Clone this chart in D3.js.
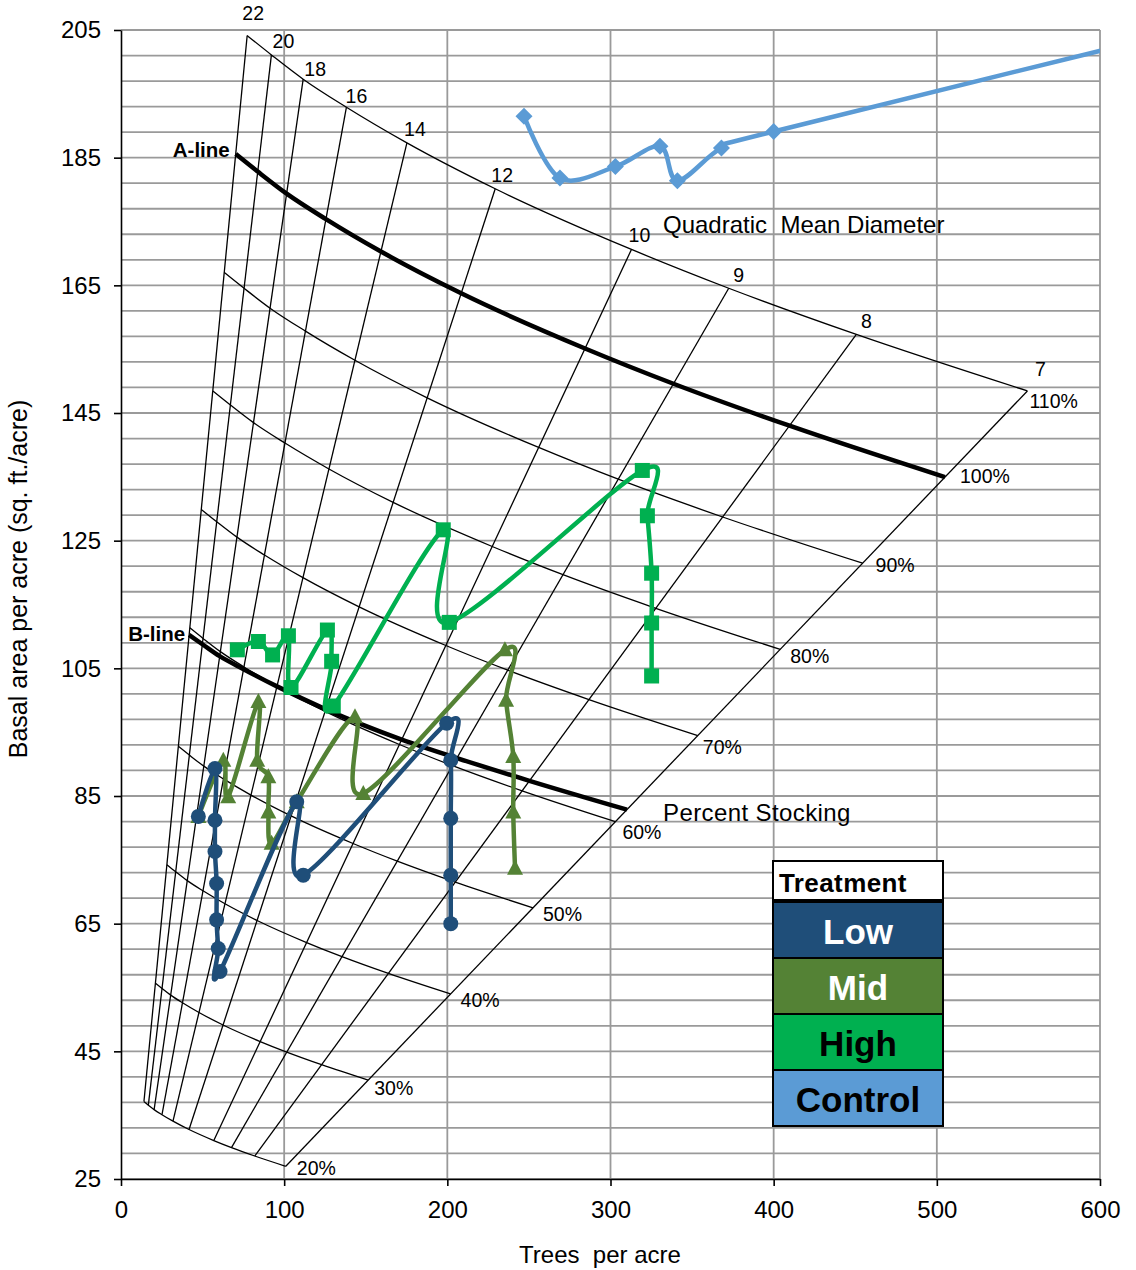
<!DOCTYPE html>
<html>
<head>
<meta charset="utf-8">
<script src="https://cdn.jsdelivr.net/npm/d3@7"></script>
<style>
  body { margin: 0; background: #fff; }
  text { font-family: "Liberation Sans", Arial, sans-serif; fill: #000; }
</style>
</head>
<body>
<svg id="chart" width="1136" height="1270"></svg>
<script>
// stocking guide: trees/acre at 100% stocking for each QMD, read along the A-line
var qmd = [22, 20, 18, 16, 14, 12, 10, 9, 8, 7];
var tpaFull = [70.3, 83.8, 101.5, 125.6, 159.3, 208.5, 284.4, 338.6, 409.7, 505];
var stockLevels = [20, 30, 40, 50, 60, 70, 80, 90, 100, 110];
var bLinePct = [59.4, 59.5, 59.6, 59.8, 60.0, 60.2, 60.5, 60.8, 61.1, 61.4];

// treatments (trees per acre, basal area per acre)
var lowTpa = [47.4, 57.6, 57.6, 57.6, 58.6, 58.6, 59.6, 60.7, 107.7, 111.7, 199.6, 202.1, 202.1, 202.1, 202.1];
var lowBa  = [81.8, 89.3, 81.2, 76.3, 71.3, 65.6, 61.1, 57.5, 84.1, 72.6, 96.4, 90.6, 81.5, 72.6, 65.0];

var midTpa = [47.4, 62.7, 65.7, 84.2, 83.5, 90.3, 90.3, 92.3, 107.7, 143.4, 148.5, 235.3, 236.0, 240.4, 240.4, 241.5];
var midBa  = [81.8, 90.6, 84.9, 99.8, 90.6, 88.0, 82.5, 77.6, 84.1, 97.4, 85.4, 107.9, 100.0, 91.2, 82.5, 73.7];

var highTpa = [71.3, 84.2, 92.9, 102.6, 104.2, 126.5, 129.1, 130.1, 197.5, 201.2, 319.5, 322.6, 325.2, 325.2, 325.2];
var highBa  = [107.9, 109.2, 107.1, 110.1, 102.0, 111.0, 106.1, 99.1, 126.7, 112.2, 136.0, 128.9, 119.9, 112.1, 103.8];

var controlTpa = [247, 269, 303, 330.3, 341, 368, 400, 700];
var controlBa  = [191.5, 181.8, 183.6, 186.8, 181.4, 186.5, 189.1, 208];

var treatments = ["Low", "Mid", "High", "Control"];
var xTicks = [0, 100, 200, 300, 400, 500, 600];
var yTicks = [25, 45, 65, 85, 105, 125, 145, 165, 185, 205];

var BA_PER_IN2 = 0.005454;   // sq ft of basal area per tree per inch^2 of dbh

(function () {
var svg = d3.select("#chart");
var pl = 121, pr = 1100, pt = 30, pb = 1179;

var x = d3.scaleLinear().domain([0, 600]).range([pl, pr]);
var y = d3.scaleLinear().domain([25, 205]).range([pb, pt]);

function node(i, pct) {
  var n = tpaFull[i] * pct / 100;
  return [n, n * BA_PER_IN2 * qmd[i] * qmd[i]];
}

// grid
var grid = svg.append("g").attr("stroke", "#9a9a9a").attr("stroke-width", 1.8);
grid.selectAll("line.h")
  .data(d3.range(25, 206, 4))
  .enter().append("line")
    .attr("x1", pl).attr("x2", pr)
    .attr("y1", function(d) { return y(d); })
    .attr("y2", function(d) { return y(d); });
grid.selectAll("line.v")
  .data(xTicks.slice(1))
  .enter().append("line")
    .attr("x1", function(d) { return x(d); })
    .attr("x2", function(d) { return x(d); })
    .attr("y1", pt).attr("y2", pb);

// axes
var yAxis = svg.append("g")
  .attr("transform", "translate(" + pl + ",0)")
  .call(d3.axisLeft(y).tickValues(yTicks).tickSize(7).tickSizeOuter(0).tickPadding(13));
var xAxis = svg.append("g")
  .attr("transform", "translate(0," + pb + ")")
  .call(d3.axisBottom(x).tickValues(xTicks).tickSize(7).tickSizeOuter(0).tickPadding(15));
[xAxis, yAxis].forEach(function(a) {
  a.selectAll("path, line").attr("stroke", "#000").attr("stroke-width", 1.6);
  a.selectAll("text").attr("font-size", 24).attr("font-family", "Liberation Sans, Arial, sans-serif").attr("fill", "#000");
});

svg.append("text")
  .attr("x", 600).attr("y", 1263)
  .attr("text-anchor", "middle")
  .attr("font-size", 24)
  .style("white-space", "pre")
  .text("Trees  per acre");
svg.append("text")
  .attr("transform", "translate(27,579) rotate(-90)")
  .attr("text-anchor", "middle")
  .attr("font-size", 25)
  .text("Basal area per acre (sq. ft./acre)");

// stocking guide
var guide = svg.append("g").attr("fill", "none").attr("stroke", "#000");
var curve = d3.line()
  .x(function(d) { return x(d[0]); })
  .y(function(d) { return y(d[1]); })
  .curve(d3.curveMonotoneX);

stockLevels.forEach(function(p) {
  var pts = qmd.map(function(d, i) { return node(i, p); });
  guide.append("path")
    .attr("d", curve(pts))
    .attr("stroke-width", p == 100 ? 4.5 : 1.3);
});

qmd.forEach(function(d, i) {
  var a = node(i, 20), b = node(i, 110);
  guide.append("line")
    .attr("x1", x(a[0])).attr("y1", y(a[1]))
    .attr("x2", x(b[0])).attr("y2", y(b[1]))
    .attr("stroke-width", 1.3);
});

var bPts = qmd.map(function(d, i) { return node(i, bLinePct[i]); });
guide.append("path").attr("d", curve(bPts)).attr("stroke-width", 4.5);

// guide labels
var pctNudge = [[11, 2], [6, 8], [10, 6], [10, 6], [7, 10], [5, 11], [10, 7], [13, 2], [15, -1], [2, 10]];
stockLevels.forEach(function(p, k) {
  var e = node(qmd.length - 1, p);
  svg.append("text")
    .attr("x", x(e[0]) + pctNudge[k][0])
    .attr("y", y(e[1]) + pctNudge[k][1])
    .attr("dominant-baseline", "central")
    .attr("font-size", 19.5)
    .text(p + "%");
});
var qmdNudge = [[6, -23], [12, -14], [12, -10], [10, -11], [8, -14], [7, -14], [8, -14], [10, -13], [10, -13], [13, -22]];
qmd.forEach(function(d, i) {
  var t = node(i, 110);
  svg.append("text")
    .attr("x", x(t[0]) + qmdNudge[i][0])
    .attr("y", y(t[1]) + qmdNudge[i][1])
    .attr("text-anchor", "middle")
    .attr("dominant-baseline", "central")
    .attr("font-size", 19.5)
    .text(d);
});

svg.append("text").attr("x", 663).attr("y", 224)
  .attr("dominant-baseline", "central").attr("font-size", 24)
  .style("white-space", "pre")
  .text("Quadratic  Mean Diameter");
svg.append("text").attr("x", 663).attr("y", 812)
  .attr("dominant-baseline", "central").attr("font-size", 24)
  .attr("letter-spacing", 0.4)
  .text("Percent Stocking");

var aStart = node(0, 100);
svg.append("text").attr("x", x(aStart[0]) - 6).attr("y", y(aStart[1]) - 5)
  .attr("text-anchor", "end").attr("dominant-baseline", "central")
  .attr("font-size", 20.5).attr("font-weight", "bold")
  .text("A-line");
var bStart = node(0, bLinePct[0]);
svg.append("text").attr("x", x(bStart[0]) - 4).attr("y", y(bStart[1]) - 1)
  .attr("text-anchor", "end").attr("dominant-baseline", "central")
  .attr("font-size", 20.5).attr("font-weight", "bold")
  .text("B-line");

// treatment series
svg.append("clipPath").attr("id", "plotClip")
  .append("rect").attr("x", pl).attr("y", pt)
  .attr("width", pr - pl).attr("height", pb - pt);

var series = [
  { name: "Control", tpa: controlTpa, ba: controlBa, color: "#5b9bd5", mark: "diamond" },
  { name: "High", tpa: highTpa, ba: highBa, color: "#00b050", mark: "square" },
  { name: "Mid", tpa: midTpa, ba: midBa, color: "#548235", mark: "triangle" },
  { name: "Low", tpa: lowTpa, ba: lowBa, color: "#1f4e79", mark: "circle" }
];

var smooth = d3.line()
  .x(function(d) { return x(d[0]); })
  .y(function(d) { return y(d[1]); })
  .curve(d3.curveCardinal.tension(0));

var markPath = {
  diamond: "M0,-8.5L8.5,0L0,8.5L-8.5,0Z",
  square: "M-7.5,-7.5H7.5V7.5H-7.5Z",
  triangle: "M0,-8.5L8,6.5H-8Z",
  circle: "M7.5,0A7.5,7.5 0 1,1 -7.5,0A7.5,7.5 0 1,1 7.5,0Z"
};

var plot = svg.append("g").attr("clip-path", "url(#plotClip)");
series.forEach(function(s) {
  var pts = s.tpa.map(function(t, i) { return [t, s.ba[i]]; });
  var g = plot.append("g");
  g.append("path")
    .attr("d", smooth(pts))
    .attr("fill", "none")
    .attr("stroke", s.color)
    .attr("stroke-width", 4.5)
    .attr("stroke-linejoin", "round");
  g.selectAll("path.m")
    .data(pts)
    .enter().append("path")
      .attr("class", "m")
      .attr("d", markPath[s.mark])
      .attr("transform", function(d) { return "translate(" + x(d[0]) + "," + y(d[1]) + ")"; })
      .attr("fill", s.color);
});

// legend
var legendColors = { Low: "#1f4e79", Mid: "#548235", High: "#00b050", Control: "#5b9bd5" };
var legendText = { Low: "#fff", Mid: "#fff", High: "#000", Control: "#000" };
var lx = 773, lw = 170, ly = 861, headH = 39, rowH = 56;
var legend = svg.append("g");
legend.append("rect")
  .attr("x", lx).attr("y", ly).attr("width", lw).attr("height", headH)
  .attr("fill", "#fff").attr("stroke", "#000").attr("stroke-width", 2);
legend.append("text")
  .attr("x", lx + 6).attr("y", ly + headH / 2 + 2)
  .attr("dominant-baseline", "central")
  .attr("font-family", "Lato, 'Open Sans', sans-serif")
  .attr("font-weight", "bold").attr("font-size", 26)
  .attr("letter-spacing", 0.4)
  .text("Treatment");
treatments.forEach(function(t, i) {
  var yy = ly + headH + 2 + i * rowH;
  legend.append("rect")
    .attr("x", lx).attr("y", yy).attr("width", lw).attr("height", rowH)
    .attr("fill", legendColors[t]).attr("stroke", "#000").attr("stroke-width", 2);
  legend.append("text")
    .attr("x", lx + lw / 2).attr("y", yy + rowH / 2 + 1)
    .attr("text-anchor", "middle").attr("dominant-baseline", "central")
    .attr("font-family", "Lato, 'Open Sans', sans-serif")
    .attr("font-weight", "bold").attr("font-size", 35)
    .style("fill", legendText[t])
    .text(t);
});
})();
</script>
</body>
</html>
